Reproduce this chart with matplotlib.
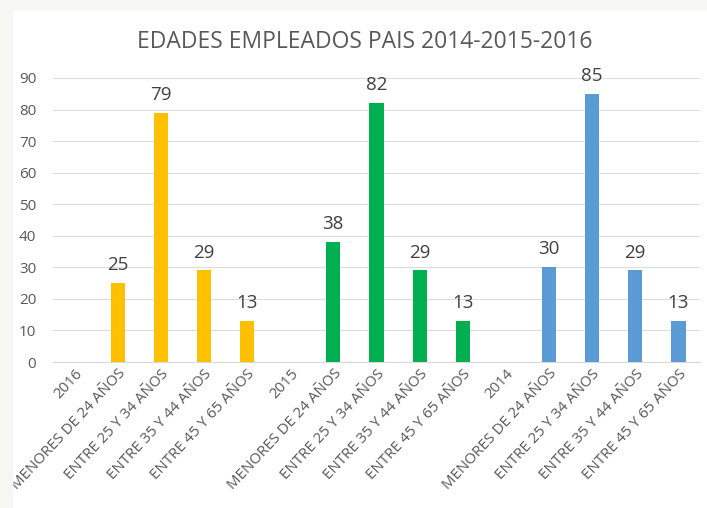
import matplotlib
matplotlib.use("Agg")
import matplotlib.pyplot as plt
from matplotlib.patches import Rectangle

categories = ["2016", "MENORES DE 24 AÑOS", "ENTRE 25 Y 34 AÑOS", "ENTRE 35 Y 44 AÑOS", "ENTRE 45 Y 65 AÑOS",
              "2015", "MENORES DE 24 AÑOS", "ENTRE 25 Y 34 AÑOS", "ENTRE 35 Y 44 AÑOS", "ENTRE 45 Y 65 AÑOS",
              "2014", "MENORES DE 24 AÑOS", "ENTRE 25 Y 34 AÑOS", "ENTRE 35 Y 44 AÑOS", "ENTRE 45 Y 65 AÑOS"]
values = [None, 25, 79, 29, 13,
          None, 38, 82, 29, 13,
          None, 30, 85, 29, 13]
group_colors = ["#FFC000", "#00B050", "#5B9BD5"]
yticks = [0, 10, 20, 30, 40, 50, 60, 70, 80, 90]
title = "EDADES EMPLEADOS PAIS 2014-2015-2016"

plt.rcParams['font.family'] = ['Open Sans', 'DejaVu Sans']

fig = plt.figure(figsize=(7.07, 5.08), dpi=100)
fig.patch.set_facecolor("white")

ax = fig.add_axes([53/707, 146/508, 647/707, 284/508])
x = list(range(len(categories)))
for i, v in enumerate(values):
    if v is None:
        continue
    c = group_colors[i // 5]
    ax.bar(i, v, width=0.33, color=c, zorder=3)
    ax.text(i, v + 2.8, str(v), ha="center", va="bottom", fontsize=13.5, color="#404040")

ax.set_xlim(-0.5, len(categories) - 0.5)
ax.set_ylim(0, 90)
ax.set_yticks(yticks)
ax.set_yticklabels([str(t) for t in yticks], fontsize=11, color="#595959")
ax.grid(axis="y", color="#DDDDDD", linewidth=0.8, zorder=0)
ax.set_xticks(x)
ax.set_xticklabels(categories, rotation=47, ha="right", rotation_mode="anchor", fontsize=10.8, color="#595959")
ax.tick_params(axis="both", length=0)
ax.tick_params(axis="y", pad=12)
ax.tick_params(axis="x", pad=3)
for s in ["top", "right", "left"]:
    ax.spines[s].set_visible(False)
ax.spines["bottom"].set_color("#D9D9D9")

fig.text(365/707, 1 - 42/508, title, ha="center", va="center", fontsize=16.5, color="#595959")

# light outer frame strips (drawn on top, clipping label edges like the screenshot)
fig.add_artist(Rectangle((0, 0), 12/707, 1, transform=fig.transFigure, color="#F6F6F2", zorder=10))
fig.add_artist(Rectangle((0, 1 - 9/508), 1, 9/508, transform=fig.transFigure, color="#F6F6F2", zorder=10))

fig.savefig("out.png", dpi=100)
